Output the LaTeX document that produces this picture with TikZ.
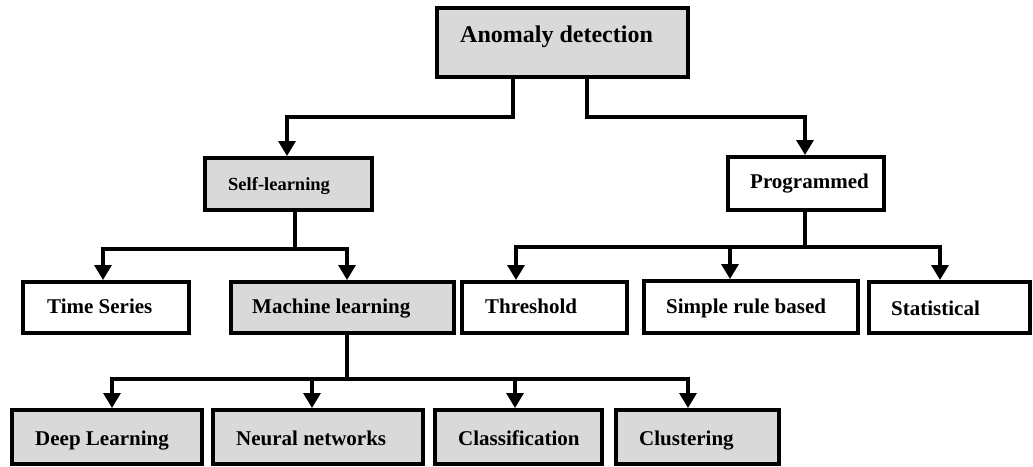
\documentclass[tikz,border=0pt]{standalone}
\usepackage{fontspec}
\setmainfont{Liberation Serif}
\usetikzlibrary{arrows.meta}
\definecolor{boxgray}{RGB}{217,217,217}
\begin{document}
\begin{tikzpicture}[x=1pt,y=-1pt,
  cbox/.style={draw=black, line width=4pt, fill=white, inner sep=0pt, rectangle},
  gbox/.style={cbox, fill=boxgray},
  lbl/.style={anchor=base west, inner sep=0pt, font=\bfseries\fontsize{21}{24}\selectfont},
  conn/.style={line width=3.3pt},
  arr/.style={conn, -{Triangle[length=15pt,width=17pt]}}]
\useasboundingbox (0,0) rectangle (1033,466);

% boxes
\node[gbox, minimum width=251pt, minimum height=69pt] (ad) at (562.5,42.5) {};
\node[gbox, minimum width=167pt, minimum height=52pt] (sl) at (288.5,184) {};
\node[cbox, minimum width=156pt, minimum height=53pt] (pg) at (806,183.5) {};
\node[cbox, minimum width=166pt, minimum height=51pt] (ts) at (106,307.5) {};
\node[gbox, minimum width=223pt, minimum height=51pt] (ml) at (342.5,307.5) {};
\node[cbox, minimum width=165pt, minimum height=51pt] (th) at (544.5,307.5) {};
\node[cbox, minimum width=214pt, minimum height=52pt] (sr) at (751,307) {};
\node[cbox, minimum width=161pt, minimum height=51pt] (st) at (949.5,307.5) {};
\node[gbox, minimum width=190pt, minimum height=54pt] (dl) at (107,437) {};
\node[gbox, minimum width=210pt, minimum height=54pt] (nn) at (318,437) {};
\node[gbox, minimum width=167pt, minimum height=54pt] (cl) at (518.5,437) {};
\node[gbox, minimum width=163pt, minimum height=54pt] (cu) at (697.5,437) {};

% labels
\node[lbl, font=\bfseries\fontsize{24}{28}\selectfont] (ad-t) at (460,42) {Anomaly detection};
\node[lbl, font=\bfseries\fontsize{18.5}{22}\selectfont] (sl-t) at (228,190) {Self-learning};
\node[lbl] (pg-t) at (750,188) {Programmed};
\node[lbl] (ts-t) at (47,313) {Time Series};
\node[lbl] (ml-t) at (252,313) {Machine learning};
\node[lbl] (th-t) at (485,313) {Threshold};
\node[lbl] (sr-t) at (666,313) {Simple rule based};
\node[lbl] (st-t) at (891,315) {Statistical};
\node[lbl] (dl-t) at (35,445) {Deep Learning};
\node[lbl] (nn-t) at (236,445) {Neural networks};
\node[lbl] (cl-t) at (458,445) {Classification};
\node[lbl] (cu-t) at (639,445) {Clustering};

% top level
\draw[arr] ([xshift=-49.5pt]ad.south) -- ++(0,38) -| ([xshift=-1.5pt]sl.north);
\draw[arr] ([xshift=24.5pt]ad.south) -- ++(0,38) -| ([xshift=-1pt]pg.north);

% self-learning branch
\draw[conn] ([xshift=6.5pt]sl.south) -- ++(0,37) coordinate (slj);
\draw[arr] (slj) -| ([xshift=-3pt]ts.north);
\draw[arr] (slj) -| ([xshift=4.5pt]ml.north);

% programmed branch
\draw[conn] ([xshift=-1pt]pg.south) -- ++(0,35) coordinate (pgj);
\draw[arr] (pgj) -| ([xshift=-28.5pt]th.north);
\draw[arr] (pgj) -| ([xshift=-21pt]sr.north);
\draw[arr] (pgj) -| ([xshift=-9.5pt]st.north);

% machine learning branch
\draw[conn] ([xshift=4.5pt]ml.south) -- ++(0,44) coordinate (mlj);
\draw[arr] (mlj) -| ([xshift=5pt]dl.north);
\draw[arr] (mlj) -| ([xshift=-6pt]nn.north);
\draw[arr] (mlj) -| ([xshift=-3.5pt]cl.north);
\draw[arr] (mlj) -| ([xshift=-9.5pt]cu.north);
\end{tikzpicture}
\end{document}
